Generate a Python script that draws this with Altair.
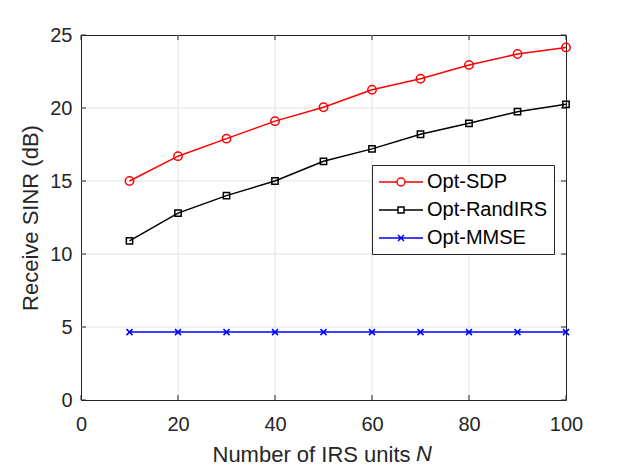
import altair as alt
import pandas as pd

# ---- data ----
N_UNITS = [10, 20, 30, 40, 50, 60, 70, 80, 90, 100]
OPT_SDP = [15.0, 16.7, 17.9, 19.1, 20.05, 21.25, 22.0, 22.95, 23.7, 24.15]
OPT_RANDIRS = [10.9, 12.8, 14.0, 15.0, 16.35, 17.2, 18.2, 18.95, 19.75, 20.25]
OPT_MMSE = [4.65, 4.65, 4.65, 4.65, 4.65, 4.65, 4.65, 4.65, 4.65, 4.65]
SERIES = ["Opt-SDP", "Opt-RandIRS", "Opt-MMSE"]
COLORS = ["#ff0000", "#000000", "#0000ff"]
X_TICKS = [0, 20, 40, 60, 80, 100]
Y_TICKS = [0, 5, 10, 15, 20, 25]

rows = []
for name, vals in zip(SERIES, [OPT_SDP, OPT_RANDIRS, OPT_MMSE]):
    for n, v in zip(N_UNITS, vals):
        rows.append({"N": n, "SINR": v, "series": name})
df = pd.DataFrame(rows)
xt = pd.DataFrame({"N": X_TICKS})
yt = pd.DataFrame({"SINR": Y_TICKS})
xg = pd.DataFrame({"N": X_TICKS[1:-1]})
yg = pd.DataFrame({"SINR": Y_TICKS[1:-1]})

W, H = 485, 365
FONT = "Liberation Sans"
AX = "#262626"
GRID = "#e3e3e3"

xs = alt.Scale(domain=[0, 100], nice=False, zero=False)
ys = alt.Scale(domain=[0, 25], nice=False, zero=False)
cs = alt.Scale(domain=SERIES, range=COLORS)

x_axis = alt.Axis(values=X_TICKS, title="Number of IRS units", titleX=131, titleY=61,
                  titleAlign="left", titleBaseline="alphabetic", titleAnchor="start",
                  titleFontSize=22, titleFontWeight="normal", titleColor=AX, titleFont=FONT,
                  labelFontSize=20, labelFont=FONT, labelColor=AX, labelPadding=14,
                  labelFlush=False, labelOverlap=False,
                  ticks=False, domain=False, grid=False)
y_axis = alt.Axis(values=Y_TICKS, title="Receive SINR (dB)", titleX=-44, titleY=H / 2,
                  titleAlign="center", titleBaseline="alphabetic", titleAngle=270,
                  titleFontSize=22, titleFontWeight="normal", titleColor=AX, titleFont=FONT,
                  labelFontSize=20, labelFont=FONT, labelColor=AX, labelPadding=9,
                  labelFlush=False, labelOverlap=False,
                  ticks=False, domain=False, grid=False)

X = alt.X("N:Q", scale=xs, axis=x_axis)
Y = alt.Y("SINR:Q", scale=ys, axis=y_axis)

# grid lines (interior ticks, so the frame stays dark)
gx = alt.Chart(xg).mark_rule(color=GRID, strokeWidth=1).encode(x=X, y=alt.value(0), y2=alt.value(H))
gy = alt.Chart(yg).mark_rule(color=GRID, strokeWidth=1).encode(y=Y, x=alt.value(0), x2=alt.value(W))

base = alt.Chart(df)

MARKS = [("circle", 70), ("square", 40), ("M-1,-1L1,1M-1,1L1,-1", 36)]
line_layers = []
point_layers = []
for name, col, (shp, sz) in zip(SERIES, COLORS, MARKS):
    sub = base.transform_filter(alt.datum.series == name)
    line_layers.append(sub.mark_line(strokeWidth=1.5, color=col).encode(x=X, y=Y))
    point_layers.append(
        sub.mark_point(shape=shp, size=sz, filled=False, strokeWidth=1.5, color=col, opacity=1)
        .encode(x=X, y=Y)
    )

LEG_PATHS = [
    "M-1,0H0.8M1.6,0H3.4M0.8,0A0.4,0.4 0 1,0 1.6,0A0.4,0.4 0 1,0 0.8,0",
    "M-1,0H0.9M1.5,0H3.4M0.9,-0.3H1.5V0.3H0.9Z",
    "M-1,0H3.4M0.9,-0.3L1.5,0.3M0.9,0.3L1.5,-0.3",
]
leg = alt.Legend(title=None, orient="none", legendX=291, legendY=130, direction="vertical",
                 padding=6, rowPadding=7, strokeColor=AX, fillColor="white", cornerRadius=0,
                 labelFontSize=20, labelFont=FONT, labelColor="black", labelOffset=27,
                 labelLimit=300, symbolSize=400, symbolStrokeWidth=1.5)
legend_layer = base.mark_point(filled=False, opacity=0, size=400, strokeWidth=1.5).encode(
    x=X, y=Y,
    color=alt.Color("series:N", scale=cs, legend=leg, sort=SERIES),
    shape=alt.Shape("series:N", scale=alt.Scale(domain=SERIES, range=LEG_PATHS), legend=leg, sort=SERIES),
)

tick_style = dict(color=AX, strokeWidth=1)
tb = alt.Chart(xt).mark_rule(**tick_style).encode(x=X, y=alt.value(H), y2=alt.value(H - 5))
tt = alt.Chart(xt).mark_rule(**tick_style).encode(x=X, y=alt.value(0), y2=alt.value(5))
tl = alt.Chart(yt).mark_rule(**tick_style).encode(y=Y, x=alt.value(0), x2=alt.value(5))
tr = alt.Chart(yt).mark_rule(**tick_style).encode(y=Y, x=alt.value(W), x2=alt.value(W - 5))

n_text = alt.Chart(pd.DataFrame({"t": ["N"]})).mark_text(
    font=FONT, fontSize=22, fontStyle="italic", align="left", baseline="alphabetic", color=AX
).encode(text="t:N", x=alt.value(335), y=alt.value(H + 61))

chart = alt.layer(gx, gy, *line_layers, *point_layers, tb, tt, tl, tr, legend_layer, n_text).properties(
    width=W, height=H,
    padding={"left": 73, "top": 27, "right": 49, "bottom": 67},
    autosize=alt.AutoSizeParams(type="none"),
    background="white",
).configure(font=FONT).configure_view(stroke=AX, strokeWidth=1)

chart.save("out.html", embed_options={"renderer": "svg", "actions": False})
